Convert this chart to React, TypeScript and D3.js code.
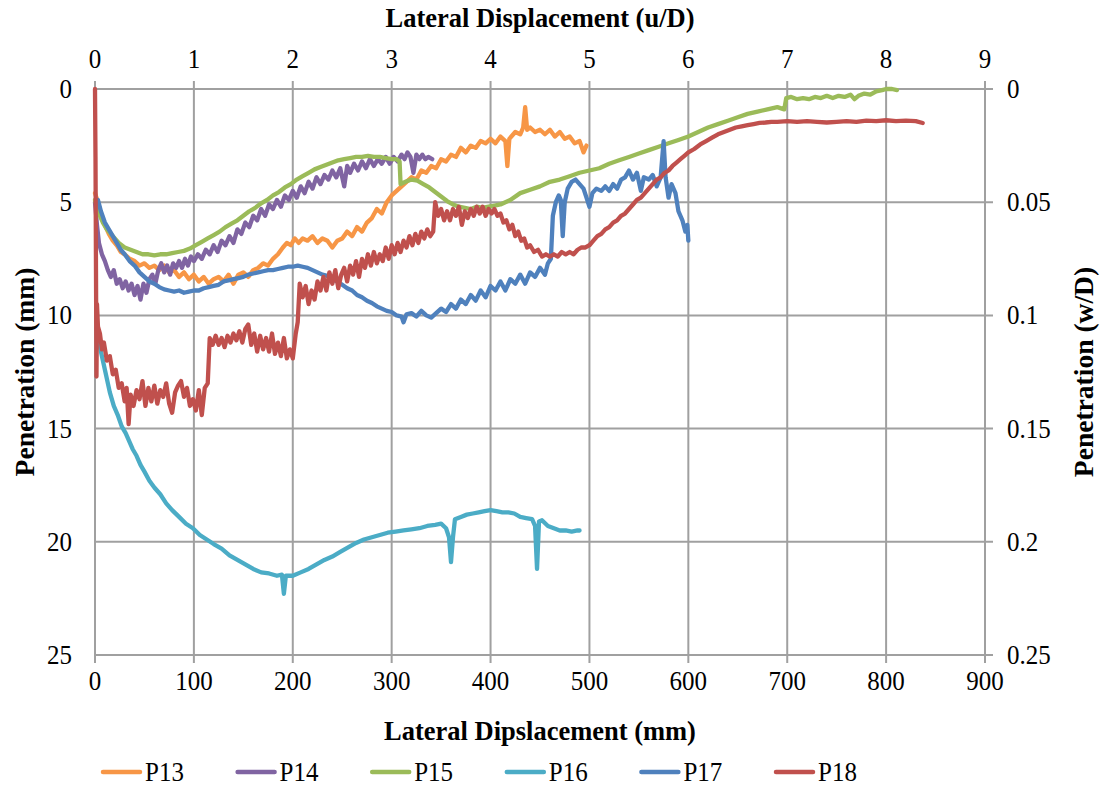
import React from "react";
import * as d3 from "d3";

// Lateral displacement (mm) vs penetration (mm) for the pipe tests P13–P18
type Pt = [number, number];

const p13: Pt[] = [[0,4.6],[3,5.0],[6,5.6],[10,6.0],[14,6.4],[18,6.7],[22,6.9],[26,7.2],[30,7.3],[35,7.5],[40,7.6],[45,7.8],[50,7.7],[55,7.9],[60,7.8],[65,8.0],[70,7.8],[75,8.1],[80,8.0],[85,8.3],[90,8.1],[95,8.4],[100,8.2],[105,8.5],[110,8.3],[115,8.6],[120,8.4],[125,8.3],[130,8.5],[135,8.2],[140,8.6],[145,8.2],[150,8.1],[155,8.3],[160,8.0],[165,7.9],[170,7.7],[175,7.8],[180,7.5],[185,7.3],[190,7.0],[194,6.8],[198,6.9],[202,6.6],[206,6.8],[210,6.6],[215,6.7],[220,6.5],[225,6.8],[230,6.6],[235,6.7],[240,7.0],[245,6.7],[250,6.6],[255,6.3],[260,6.5],[265,6.1],[270,6.3],[275,5.9],[280,5.7],[285,5.3],[290,5.5],[295,5.0],[300,4.7],[305,4.5],[310,4.3],[315,4.1],[320,3.9],[325,4.0],[330,3.6],[335,3.7],[340,3.4],[345,3.5],[350,3.1],[355,3.2],[360,2.9],[365,3.0],[370,2.6],[375,2.8],[380,2.5],[385,2.6],[390,2.3],[395,2.4],[400,2.2],[405,2.4],[410,2.1],[415,2.3],[417,3.4],[419,2.2],[425,1.9],[430,2.0],[433,1.7],[435,0.8],[437,1.8],[440,1.7],[445,1.9],[450,1.8],[455,2.0],[460,1.8],[465,2.1],[470,1.9],[475,2.2],[480,2.1],[485,2.4],[490,2.3],[494,2.8],[497,2.5]];

const p14: Pt[] = [[0,5.0],[2,6.0],[4,6.8],[7,7.3],[10,7.6],[13,8.0],[16,8.3],[19,8.0],[22,8.6],[25,8.4],[28,8.8],[31,8.5],[34,8.9],[37,8.6],[40,9.1],[43,8.7],[46,9.3],[49,8.6],[52,9.0],[55,8.4],[58,8.2],[61,8.6],[64,8.0],[67,7.7],[70,8.1],[73,7.8],[76,8.2],[79,7.7],[82,7.9],[85,7.6],[88,7.9],[91,7.5],[94,7.8],[97,7.4],[100,7.6],[104,7.3],[108,7.5],[112,7.1],[116,7.3],[120,6.9],[124,7.2],[128,6.7],[132,6.9],[136,6.5],[140,6.8],[144,6.2],[148,6.4],[152,5.9],[156,6.1],[160,5.6],[164,5.8],[168,5.3],[172,5.6],[176,5.1],[180,5.3],[184,4.9],[188,5.2],[192,4.7],[196,4.9],[200,4.5],[204,4.8],[208,4.3],[212,4.6],[216,4.1],[220,4.4],[224,3.9],[228,4.2],[232,3.8],[236,4.0],[240,3.6],[244,3.9],[248,3.5],[252,4.3],[255,3.4],[258,3.7],[262,3.3],[266,3.6],[270,3.2],[274,3.5],[278,3.1],[282,3.4],[286,3.1],[290,3.3],[294,3.0],[298,3.3],[302,3.0],[306,3.2],[310,2.9],[313,3.1],[316,2.8],[319,3.0],[322,3.7],[325,2.9],[328,3.1],[331,2.9],[334,3.1],[337,3.0],[341,3.1]];

const p15: Pt[] = [[0,4.9],[4,5.5],[8,5.9],[12,6.2],[18,6.5],[24,6.8],[30,7.0],[36,7.1],[42,7.2],[48,7.3],[54,7.3],[60,7.35],[66,7.3],[72,7.3],[78,7.25],[84,7.2],[90,7.15],[96,7.05],[102,6.9],[108,6.75],[114,6.6],[120,6.45],[126,6.3],[132,6.1],[138,5.95],[144,5.8],[150,5.6],[156,5.4],[162,5.25],[168,5.05],[174,4.9],[180,4.7],[186,4.55],[192,4.35],[198,4.2],[204,4.0],[210,3.85],[216,3.7],[222,3.55],[228,3.45],[234,3.35],[240,3.25],[246,3.15],[252,3.1],[258,3.05],[264,3.0],[270,3.0],[276,2.95],[282,3.0],[288,3.0],[294,3.05],[300,3.1],[305,3.1],[308,3.2],[309,4.2],[314,4.1],[320,4.0],[326,4.05],[332,4.2],[338,4.35],[344,4.55],[350,4.75],[356,4.95],[362,5.1],[368,5.2],[374,5.25],[380,5.3],[386,5.2],[392,5.25],[398,5.2],[404,5.15],[410,5.1],[420,4.9],[430,4.6],[440,4.45],[450,4.3],[460,4.1],[470,4.0],[480,3.85],[490,3.7],[500,3.6],[510,3.5],[520,3.3],[530,3.15],[540,3.0],[550,2.85],[560,2.7],[570,2.55],[580,2.4],[590,2.25],[600,2.1],[610,1.9],[620,1.7],[630,1.55],[640,1.4],[650,1.25],[660,1.1],[670,1.0],[680,0.9],[690,0.8],[697,0.9],[699,0.4],[704,0.35],[710,0.45],[716,0.4],[722,0.45],[728,0.35],[734,0.4],[740,0.3],[746,0.4],[752,0.3],[758,0.35],[764,0.25],[768,0.45],[772,0.3],[778,0.2],[784,0.25],[790,0.1],[796,0.05],[800,0.0],[806,0.0],[811,0.05]];

const p16: Pt[] = [[3,10.8],[5,11.4],[8,12.0],[11,12.6],[15,13.4],[19,14.0],[23,14.4],[27,14.9],[31,15.2],[35,15.6],[38,15.9],[42,16.2],[46,16.6],[50,16.9],[55,17.3],[60,17.6],[66,17.9],[72,18.3],[78,18.6],[85,18.9],[92,19.2],[99,19.4],[106,19.7],[113,19.9],[120,20.1],[128,20.3],[136,20.6],[144,20.8],[152,21.0],[160,21.2],[168,21.35],[176,21.4],[184,21.5],[189,21.45],[191,22.3],[193,21.5],[200,21.5],[208,21.35],[216,21.2],[224,21.0],[232,20.8],[240,20.65],[248,20.45],[256,20.25],[264,20.05],[272,19.9],[280,19.8],[288,19.7],[296,19.6],[304,19.55],[312,19.5],[320,19.45],[328,19.4],[336,19.3],[344,19.25],[350,19.2],[355,19.4],[358,19.8],[360,20.9],[362,19.8],[364,19.0],[370,18.9],[376,18.8],[382,18.75],[388,18.7],[394,18.65],[400,18.6],[406,18.65],[412,18.7],[418,18.7],[424,18.75],[430,18.9],[436,18.95],[442,19.0],[445,19.3],[447,21.2],[449,19.1],[452,19.05],[458,19.3],[464,19.4],[470,19.5],[476,19.5],[482,19.55],[488,19.5],[490,19.5]];

const p17: Pt[] = [[3,4.9],[6,5.4],[10,5.9],[14,6.2],[18,6.5],[22,6.8],[26,7.1],[30,7.3],[35,7.6],[40,7.8],[45,8.1],[50,8.3],[55,8.5],[60,8.6],[65,8.75],[70,8.85],[75,8.9],[80,8.95],[85,8.9],[90,9.0],[95,8.95],[100,8.9],[105,8.9],[110,8.8],[115,8.75],[120,8.7],[125,8.65],[130,8.5],[135,8.45],[140,8.4],[145,8.35],[150,8.3],[155,8.2],[160,8.15],[165,8.1],[170,8.05],[175,8.0],[180,8.0],[185,7.95],[190,7.9],[195,7.85],[200,7.85],[205,7.8],[210,7.85],[215,7.9],[220,8.0],[225,8.1],[230,8.2],[235,8.25],[240,8.4],[245,8.5],[250,8.65],[255,8.8],[260,8.9],[265,9.1],[270,9.2],[275,9.35],[280,9.45],[285,9.6],[290,9.7],[295,9.8],[300,9.85],[305,10.0],[310,10.05],[312,10.3],[315,9.95],[320,9.9],[325,10.05],[330,9.8],[335,10.0],[340,10.1],[345,9.9],[350,9.7],[355,9.85],[360,9.5],[365,9.7],[370,9.3],[375,9.5],[380,9.1],[385,9.35],[390,8.9],[395,9.2],[400,8.7],[405,8.9],[410,8.5],[415,8.9],[420,8.4],[425,8.6],[430,8.2],[435,8.6],[440,8.1],[445,8.3],[450,7.9],[455,8.2],[458,7.7],[461,7.5],[463,5.6],[466,5.0],[469,4.7],[471,4.9],[473,6.5],[475,5.0],[478,4.4],[482,4.1],[486,4.0],[490,4.2],[494,4.4],[497,4.8],[500,5.2],[503,4.6],[507,4.4],[512,4.5],[516,4.3],[520,4.5],[524,4.2],[528,4.4],[532,4.0],[536,3.9],[540,3.6],[544,4.0],[548,3.7],[552,4.5],[555,3.9],[560,4.0],[564,3.8],[568,4.3],[572,3.9],[575,2.3],[577,3.9],[580,4.8],[583,4.2],[587,4.6],[590,5.4],[594,5.8],[597,6.3],[599,6.0],[600,6.7]];

const p18: Pt[] = [[0,0],[0.5,3],[1,8],[1.5,12.7],[2,9.5],[3,10.5],[5,10.8],[7,11.5],[9,11.2],[12,12.0],[15,11.8],[18,12.6],[21,12.4],[24,13.2],[27,13.0],[30,13.8],[32,13.2],[34,14.8],[36,13.5],[39,14.0],[42,13.3],[45,13.7],[48,12.9],[51,14.0],[54,13.2],[57,13.8],[60,13.1],[63,13.9],[66,13.3],[69,13.6],[72,13.0],[75,13.9],[78,14.3],[81,13.4],[84,13.1],[87,12.9],[90,13.6],[93,13.2],[96,14.0],[99,13.7],[102,14.2],[105,13.3],[108,14.4],[111,13.2],[114,13.0],[116,11.0],[119,11.3],[122,10.9],[125,11.3],[128,11.0],[131,11.4],[134,10.9],[137,11.2],[140,10.8],[143,11.1],[146,10.7],[149,11.2],[152,10.6],[155,10.4],[158,11.3],[161,10.8],[164,11.6],[167,10.9],[170,11.5],[173,11.0],[176,11.6],[179,10.8],[182,11.7],[185,11.2],[188,11.8],[191,11.0],[194,11.9],[197,11.5],[200,11.9],[203,10.8],[205,10.3],[207,8.6],[210,9.2],[213,8.7],[216,9.5],[219,8.9],[222,9.3],[225,8.5],[228,8.9],[231,8.3],[234,8.9],[237,8.1],[240,8.6],[243,8.0],[246,8.8],[249,8.2],[252,7.9],[255,8.5],[258,7.8],[261,8.2],[264,7.6],[267,8.3],[270,7.5],[273,7.9],[276,7.3],[279,7.8],[282,7.2],[285,7.7],[288,7.3],[291,7.6],[294,7.0],[297,7.5],[300,6.9],[303,7.3],[306,6.8],[309,7.2],[312,6.7],[315,7.0],[318,6.5],[321,6.9],[324,6.4],[327,6.8],[330,6.3],[333,6.6],[336,6.2],[339,6.5],[342,6.3],[344,5.0],[347,5.6],[350,5.3],[353,5.8],[356,5.4],[359,5.8],[362,5.3],[365,5.6],[368,5.2],[371,6.0],[374,5.4],[377,5.7],[380,5.3],[383,5.6],[386,5.2],[389,5.5],[392,5.2],[395,5.6],[398,5.3],[401,5.5],[404,5.3],[407,5.6],[410,5.5],[413,5.9],[416,5.8],[419,6.2],[422,6.0],[425,6.5],[428,6.3],[431,6.7],[434,6.6],[437,7.0],[440,6.9],[444,7.2],[448,7.1],[452,7.4],[456,7.3],[460,7.4],[464,7.3],[468,7.4],[472,7.2],[476,7.3],[480,7.2],[484,7.3],[488,7.1],[492,7.0],[496,7.0],[500,6.9],[504,6.7],[508,6.5],[512,6.4],[516,6.2],[520,6.1],[524,5.9],[528,5.8],[532,5.6],[536,5.5],[540,5.3],[544,5.1],[548,4.9],[552,4.8],[556,4.6],[560,4.4],[564,4.2],[568,4.0],[572,3.9],[576,3.7],[580,3.6],[584,3.4],[588,3.25],[592,3.1],[596,2.95],[600,2.8],[606,2.65],[612,2.45],[618,2.3],[624,2.15],[630,2.0],[636,1.9],[642,1.8],[648,1.7],[654,1.65],[660,1.6],[666,1.55],[672,1.5],[678,1.48],[684,1.45],[690,1.45],[700,1.42],[710,1.45],[720,1.42],[730,1.45],[740,1.48],[750,1.45],[760,1.42],[770,1.45],[780,1.4],[790,1.42],[800,1.38],[810,1.42],[820,1.4],[830,1.42],[837,1.5]];

const seriesNames = ["P13", "P14", "P15", "P16", "P17", "P18"];
const seriesData = [p13, p14, p15, p16, p17, p18];
const seriesColors = ["#F79646", "#8064A2", "#9BBB59", "#4BACC6", "#4F81BD", "#C0504D"];

const xTicksMm = [0, 100, 200, 300, 400, 500, 600, 700, 800, 900];
const xTicksUD = [0, 1, 2, 3, 4, 5, 6, 7, 8, 9];
const yTicksMm = [0, 5, 10, 15, 20, 25];
const yTicksWD = ["0", "0.05", "0.1", "0.15", "0.2", "0.25"];

const W = 1100;
const H = 789;
const L = 95, R = 985, T = 89, B = 655;

const FONT = '"Liberation Serif", "Times New Roman", Times, "DejaVu Serif", serif';
const GRID = "#A0A0A0";
const TXT: React.CSSProperties = { fontFamily: FONT };
const STRETCH = 1.1; // tick and legend text is slightly taller than wide

// horizontal text, anchored at (x, y) baseline
function HText(props: {
  x: number;
  y: number;
  size: number;
  anchor?: "start" | "middle" | "end";
  bold?: boolean;
  stretch?: number;
  children: React.ReactNode;
}) {
  const { x, y, size, anchor = "start", bold, stretch = STRETCH, children } = props;
  return (
    <text
      transform={`translate(${x},${y}) scale(1,${stretch})`}
      fontSize={size}
      fontWeight={bold ? "bold" : "normal"}
      textAnchor={anchor}
      style={TXT}
      fill="#000"
    >
      {children}
    </text>
  );
}

export default function App() {
  const x = d3.scaleLinear().domain([0, 900]).range([L, R]);
  const xUD = d3.scaleLinear().domain([0, 9]).range([L, R]);
  const y = d3.scaleLinear().domain([0, 25]).range([T, B]);
  const yWD = d3.scaleLinear().domain([0, 0.25]).range([T, B]);
  const line = d3.line<Pt>().x((d) => x(d[0])).y((d) => y(d[1]));

  const legendX0 = 103;
  const legendStep = 134.6;
  const legendY = 772;

  return (
    <svg
      width={W}
      height={H}
      style={{ position: "absolute", left: 0, top: 0, background: "#fff" }}
    >
      <rect width={W} height={H} fill="#fff" />
      {/* grid */}
      {xTicksMm.map((t) => (
        <line key={"gx" + t} x1={x(t)} x2={x(t)} y1={T - 8} y2={B + 8} stroke={GRID} strokeWidth={2} />
      ))}
      {yTicksMm.map((t) => (
        <line key={"gy" + t} x1={L} x2={R + 8} y1={y(t)} y2={y(t)} stroke={GRID} strokeWidth={2} />
      ))}

      {/* series */}
      {seriesData.map((d, i) => (
        <path
          key={seriesNames[i]}
          d={line(d) || ""}
          fill="none"
          stroke={seriesColors[i]}
          strokeWidth={4.3}
          strokeLinejoin="round"
          strokeLinecap="round"
        />
      ))}

      {/* bottom tick labels */}
      {xTicksMm.map((t) => (
        <HText key={"xl" + t} x={x(t)} y={B + 35} size={25} anchor="middle">
          {t}
        </HText>
      ))}
      {/* top tick labels */}
      {xTicksUD.map((t) => (
        <HText key={"xu" + t} x={xUD(t)} y={T - 21} size={25} anchor="middle">
          {t}
        </HText>
      ))}
      {/* left tick labels */}
      {yTicksMm.map((t) => (
        <HText key={"yl" + t} x={L - 23} y={y(t) + 9} size={25} anchor="end">
          {t}
        </HText>
      ))}
      {/* right tick labels */}
      {yTicksWD.map((t) => (
        <HText key={"yr" + t} x={R + 22} y={yWD(+t) + 9} size={25} anchor="start">
          {t}
        </HText>
      ))}

      {/* axis titles */}
      <HText x={540} y={27} size={26.5} anchor="middle" bold stretch={1.05}>
        Lateral Displacement (u/D)
      </HText>
      <HText x={540} y={740} size={26.5} anchor="middle" bold stretch={1.05}>
        Lateral Dipslacement (mm)
      </HText>
      <text
        transform={`translate(34, ${(T + B) / 2}) rotate(-90) scale(1.04,1)`}
        fontSize={26.5}
        fontWeight="bold"
        textAnchor="middle"
        style={TXT}
      >
        Penetration (mm)
      </text>
      <text
        transform={`translate(1093, ${(T + B) / 2}) rotate(-90) scale(1.04,1)`}
        fontSize={26.5}
        fontWeight="bold"
        textAnchor="middle"
        style={TXT}
      >
        Penetration (w/D)
      </text>

      {/* legend */}
      {seriesNames.map((n, i) => {
        const lx = legendX0 + i * legendStep;
        return (
          <g key={"lg" + n}>
            <line x1={lx} x2={lx + 37} y1={legendY} y2={legendY} stroke={seriesColors[i]} strokeWidth={4.5} strokeLinecap="round" />
            <HText x={lx + 42} y={legendY + 9} size={25}>
              {n}
            </HText>
          </g>
        );
      })}
    </svg>
  );
}
